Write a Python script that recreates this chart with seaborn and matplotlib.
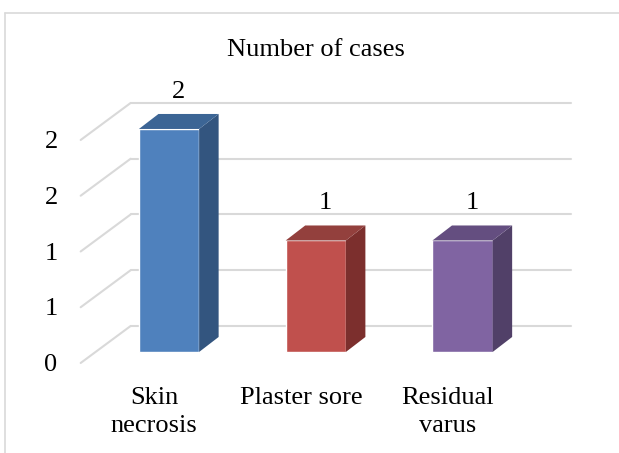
import matplotlib.pyplot as plt
import seaborn as sns
import pandas as pd
from matplotlib.patches import Polygon

# Data
categories = ["Skin\nnecrosis", "Plaster sore", "Residual\nvarus"]
cases = [2, 1, 1]
tick_values = [0, 0.5, 1, 1.5, 2]
tick_labels = ["0", "1", "1", "2", "2"]

front_colors = ["#4F81BD", "#C0504D", "#8064A2"]
side_colors = ["#33557F", "#7C2F2D", "#514068"]
top_colors = ["#3C6595", "#93403D", "#644E80"]

sns.set_style("white")
plt.rcParams['font.family'] = ['Liberation Serif', 'DejaVu Serif']

fig = plt.figure(figsize=(6.19, 4.53), dpi=100)
ax = fig.add_axes([0.1308, 0.2230, 0.7587, 0.4923])

df = pd.DataFrame({"cat": categories, "n": cases})
sns.barplot(data=df, x="cat", y="n", hue="cat", palette=front_colors,
            width=0.41, legend=False, ax=ax, zorder=3, saturation=1)

ax.set_xlim(-0.6, 2.6)
ax.set_ylim(0, 2)
ax.axis("off")

# depth offsets (data units)
back_dx, back_dy = 0.2385, 0.2332
front_dx, front_dy = -0.102, -0.0987
bar_dx, bar_dy = 0.133, 0.1345
grid_c = "#D9D9D9"
fs = 19

# back wall gridlines and floor/side diagonals
for v in tick_values:
    ax.plot([-0.5 + back_dx, 2.5 + back_dx], [v + back_dy, v + back_dy],
            color=grid_c, lw=1.5, clip_on=False, zorder=1)
    ax.plot([-0.5 + front_dx, -0.5 + back_dx], [v + front_dy, v + back_dy],
            color=grid_c, lw=1.5, clip_on=False, zorder=1)

for lab, v in zip(tick_labels, tick_values):
    ax.text(-0.804, v + front_dy - 0.02, lab, ha="center", va="center",
            fontsize=fs, color="black")

# 3D sides and tops for each bar
for i, p in enumerate(ax.patches):
    x0 = p.get_x()
    x1 = x0 + p.get_width()
    h = p.get_height()
    side = Polygon([(x1, 0), (x1 + bar_dx, bar_dy), (x1 + bar_dx, h + bar_dy), (x1, h)],
                   closed=True, facecolor=side_colors[i], edgecolor="none",
                   clip_on=False, zorder=3)
    top = Polygon([(x0, h), (x0 + bar_dx, h + bar_dy), (x1 + bar_dx, h + bar_dy), (x1, h)],
                  closed=True, facecolor=top_colors[i], edgecolor="none",
                  clip_on=False, zorder=3)
    ax.add_patch(side)
    ax.add_patch(top)
    p.set_clip_on(False)
    ax.text((x0 + x1) / 2 + bar_dx / 2, h + bar_dy + 0.2, str(cases[i]),
            ha="center", va="center", fontsize=fs, color="black")

# category labels on the front plane
for i, c in enumerate(categories):
    ax.text(i + front_dx, -0.31, c, ha="center", va="top", fontsize=fs,
            linespacing=1.38, color="black")

fig.text(316 / 619, 1 - 50 / 453, "Number of cases", ha="center", va="center",
         fontsize=fs, color="black")

# chart border (partially visible)
fig.add_artist(plt.Line2D([5 / 619, 5 / 619], [0, 1 - 13 / 453], color="#D9D9D9", lw=1.2))
fig.add_artist(plt.Line2D([5 / 619, 1], [1 - 13 / 453, 1 - 13 / 453], color="#D9D9D9", lw=1.2))

fig.savefig("out.png", dpi=100)
